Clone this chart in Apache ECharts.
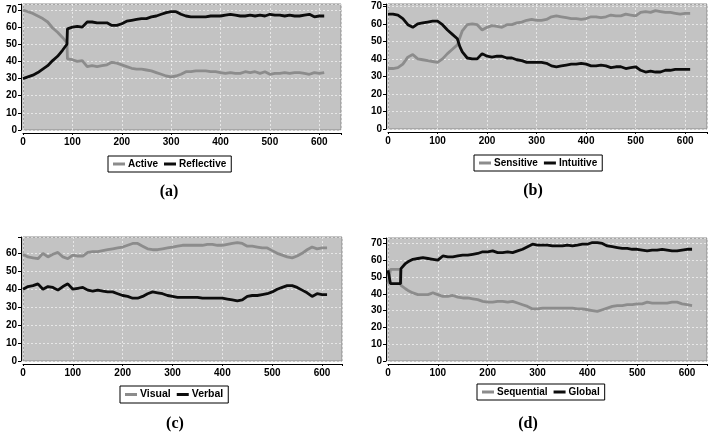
<!DOCTYPE html>
<html>
<head>
<meta charset="utf-8">
<script src="https://cdn.jsdelivr.net/npm/echarts@6/dist/echarts.min.js"></script>
<style>html,body{margin:0;padding:0;background:#fff;}#c{width:710px;height:433px;}</style>
</head>
<body>
<div id="c"></div>
<script>
// ---------- data ----------
const panelLabels = ['(a)', '(b)', '(c)', '(d)'];
const seriesNames = ['Active', 'Reflective', 'Sensitive', 'Intuitive', 'Visual', 'Verbal', 'Sequential', 'Global'];

const xA = [0,10,20,30,40,50,60,70,80,89,90,100,110,120,130,140,150,160,170,180,190,200,210,220,230,240,250,260,270,280,290,300,310,320,330,340,350,360,370,380,390,400,410,420,430,440,450,460,470,480,490,500,510,520,530,540,550,560,570,580,590,600,610];
const active = [70,69,68,66.5,65,63,59.5,57,54,51,41.5,41,40,40.5,37,37.5,37,37.5,38,39.5,39,38,37,36,35.5,35.5,35,34.5,33.5,32.5,31.5,31,31.5,32.5,34,34,34.5,34.5,34.5,34,34,33.5,33,33.5,33,33,34,33.5,34,33,34,32.5,33,33,33.5,33,33.5,33.5,33,32.5,33.5,33,33.5];
const reflective = [30,31,32,33.5,35.5,37.5,40.5,43,46.5,50,59,60,60.5,60,63,63,62.5,62.5,62.5,61,61,62,63.5,64,64.5,65,65,66,66.5,67.5,68.5,69,69,67.5,66.5,66,66,66,66,66.5,66.5,66.5,67,67.5,67,66.5,66.5,67,66.5,67,66.5,67.5,67,67,66.5,67,66.5,66.5,67,67.5,66,66.5,66.5];

const xB = [0,10,20,30,40,50,60,70,80,90,100,110,120,130,140,145,150,160,170,180,190,200,210,220,230,240,250,260,270,280,290,300,310,320,330,340,350,360,370,380,390,400,410,420,430,440,450,460,470,480,490,500,510,520,530,540,550,560,570,580,590,600,610];
const sensitive = [34.5,34.5,35,37,41,42.5,40,39.5,39,38.5,38,40,43,45.5,48,52,56,59.5,60,59.5,56.5,58,59,58.5,58,59.5,59.5,60.5,61,62,62.5,62,62,62.5,64,64.5,64,63.5,63,63,62.5,63,64,64,63.5,64,65,64.5,64.5,65.5,65,64.5,66.5,67,66.5,67.5,67,66.5,66.5,66,65.5,66,66];
const intuitive = [65.5,65.5,65,63,59.5,58,60,60.5,61,61.5,61.5,59.5,56.5,54,51.5,47,44,40.5,40,40,43,41.5,41,41.5,41.5,40.5,40.5,39.5,39,38,38,38,38,37.5,36,35.5,36,36.5,37,37,37.5,37,36,36,36.5,36,35,35.5,35.5,34.5,35,35.5,33.5,32.5,33,32.5,32.5,33.5,33.5,34,34,34,34];

const xC = [0,10,20,30,40,50,60,70,80,90,100,110,120,130,140,150,160,170,180,190,200,210,220,230,240,250,260,270,280,290,300,310,320,330,340,350,360,370,380,390,400,410,420,430,440,450,460,470,480,490,500,510,520,530,540,550,560,570,580,590,600,610];
const visual = [59.5,58,57.5,57,60,58,59.5,60.5,58,57,59,58.5,58.5,60.5,61,61,61.5,62,62.5,63,63.5,64.5,65.5,65.5,64,62.5,62,62,62.5,63,63.5,64,64.5,64.5,64.5,64.5,64.5,65,65,64.5,64.5,65,65.5,66,65.5,64,64,63.5,63,63,61.5,60,59,58,57.5,58.5,60,62,63.5,62.5,63,63];
const verbal = [40,41.5,42,43,40,41.5,41,39.5,41.5,43,40,40.5,41,39.5,39,39.5,39,38.5,38.5,37.5,36.5,36,35,35,36,37.5,38.5,38,37.5,36.5,36,35.5,35.5,35.5,35.5,35.5,35,35,35,35,35,34.5,34,33.5,34,36,36.5,36.5,37,37.5,38.5,40,41,42,42,41,39.5,38,36,37.5,37,37];

const xD = [0,4,5,25,26,35,40,50,60,70,80,90,100,110,120,130,140,150,160,170,180,190,200,210,220,230,240,250,260,270,280,290,300,310,320,330,340,350,360,370,380,390,400,410,420,430,440,450,460,470,480,490,500,510,520,530,540,550,560,570,580,590,600,610];
const sequential = [46,46,54.5,54.5,45,43,42,40.5,39.5,39.5,39.5,40.5,39.5,38.5,38.5,39,38,37.5,37.5,37,36.5,35.5,35,35,35.5,35.5,35,35.5,34.5,33.5,32.5,31,31,31.5,31.5,31.5,31.5,31.5,31.5,31.5,31,31,30.5,30,29.5,30.5,31.5,32.5,33,33,33.5,33.5,34,34,35,34.5,34.5,34.5,34.5,35,35,34,33.5,33];
const global = [54,54,46,46,55,58,59,60.5,61,61.5,61,60.5,60,62.5,62,62,62.5,63,63,63.5,64,65,65,65.5,64.5,64.5,65,64.5,65.5,66.5,68,69.5,69,69,69,68.5,68.5,68.5,69,68.5,69,69.5,69.5,70.5,70.5,70,68.5,68,67.5,67,67,66.5,66.5,66,65.5,66,66,66.5,66,65.5,65.5,66,66.5,66.5];

const xTickStep = 100;
const yTickStep = 10;

// ---------- build ----------
function zip(xs, ys) { return xs.map((x, i) => [x, ys[i]]); }

const GRAY = '#8c8c8c', BLACK = '#0c0c0c';
const grids = [
  {left: 23, top: 4, width: 318, height: 126, ymax: 73.5, xmax: 644},
  {left: 388, top: 4, width: 319, height: 125, ymax: 71.3, xmax: 644},
  {left: 23, top: 237, width: 319, height: 124, ymax: 69.1, xmax: 640},
  {left: 388, top: 238, width: 319, height: 123, ymax: 73.2, xmax: 640}
];
const pairs = [
  [zip(xA, active), zip(xA, reflective)],
  [zip(xB, sensitive), zip(xB, intuitive)],
  [zip(xC, visual), zip(xC, verbal)],
  [zip(xD, sequential), zip(xD, global)]
];
const legendPos = [
  {left: 108, top: 156, fs: 10},
  {left: 474, top: 155, fs: 10},
  {left: 120, top: 386, fs: 10.5},
  {left: 477, top: 384, fs: 10}
];
const labelPos = [[169, 192], [533, 191], [175, 424], [528, 424]];

const font = 'Liberation Sans';
const splitStyle = {show: true, lineStyle: {color: 'rgba(255,255,255,0.6)', width: 1, type: [2, 2]}};

const option = {
  animation: false,
  backgroundColor: '#ffffff',
  grid: grids.map(g => ({left: g.left, top: g.top, width: g.width, height: g.height,
    show: true, backgroundColor: '#c3c3c3', borderColor: '#8a8a8a', borderWidth: 1, containLabel: false})),
  xAxis: grids.map((g, i) => ({
    type: 'value', gridIndex: i, min: 0, max: g.xmax, interval: xTickStep, offset: 3,
    axisLine: {show: true, onZero: false, lineStyle: {color: '#000', width: 1}},
    axisTick: {show: true, length: 2, lineStyle: {color: '#000'}},
    axisLabel: {color: '#000', fontFamily: font, fontWeight: 'bold', fontSize: 10, margin: 4,
      formatter: v => (v % xTickStep === 0 ? String(v) : '')},
    splitLine: splitStyle
  })),
  yAxis: grids.map((g, i) => ({
    type: 'value', gridIndex: i, min: 0, max: g.ymax, interval: yTickStep, offset: 2,
    axisLine: {show: true, onZero: false, lineStyle: {color: '#000', width: 1}},
    axisTick: {show: true, length: 3, lineStyle: {color: '#000'}},
    axisLabel: {color: '#000', fontFamily: font, fontWeight: 'bold', fontSize: 10, margin: 4,
      formatter: v => (v % yTickStep === 0 ? String(v) : '')},
    splitLine: splitStyle
  })),
  legend: legendPos.map((p, i) => ({
    data: [seriesNames[2 * i], seriesNames[2 * i + 1]],
    left: p.left, top: p.top, orient: 'horizontal',
    backgroundColor: '#fff', borderColor: '#000', borderWidth: 1, borderRadius: 0,
    padding: [3, 5, 3, 5], itemGap: 6, itemWidth: 12, itemHeight: 3, icon: 'rect',
    textStyle: {color: '#000', fontFamily: font, fontWeight: 'bold', fontSize: p.fs, padding: [0, 0, 0, -2]}
  })),
  graphic: labelPos.map((p, i) => ({
    type: 'text', x: p[0], y: p[1],
    style: {text: panelLabels[i], textAlign: 'center', textVerticalAlign: 'middle',
      font: 'bold 16px "Liberation Serif"', fill: '#000'}
  })),
  series: []
};
pairs.forEach((pr, i) => {
  [GRAY, BLACK].forEach((col, k) => {
    option.series.push({
      type: 'line', name: seriesNames[2 * i + k], xAxisIndex: i, yAxisIndex: i,
      data: pr[k], showSymbol: false, symbol: 'none', color: col,
      lineStyle: {color: col, width: 2.8}, z: k === 1 ? 3 : 2
    });
  });
});

const chart = echarts.init(document.getElementById('c'), null, {renderer: 'canvas'});
chart.setOption(option);
</script>
</body>
</html>
